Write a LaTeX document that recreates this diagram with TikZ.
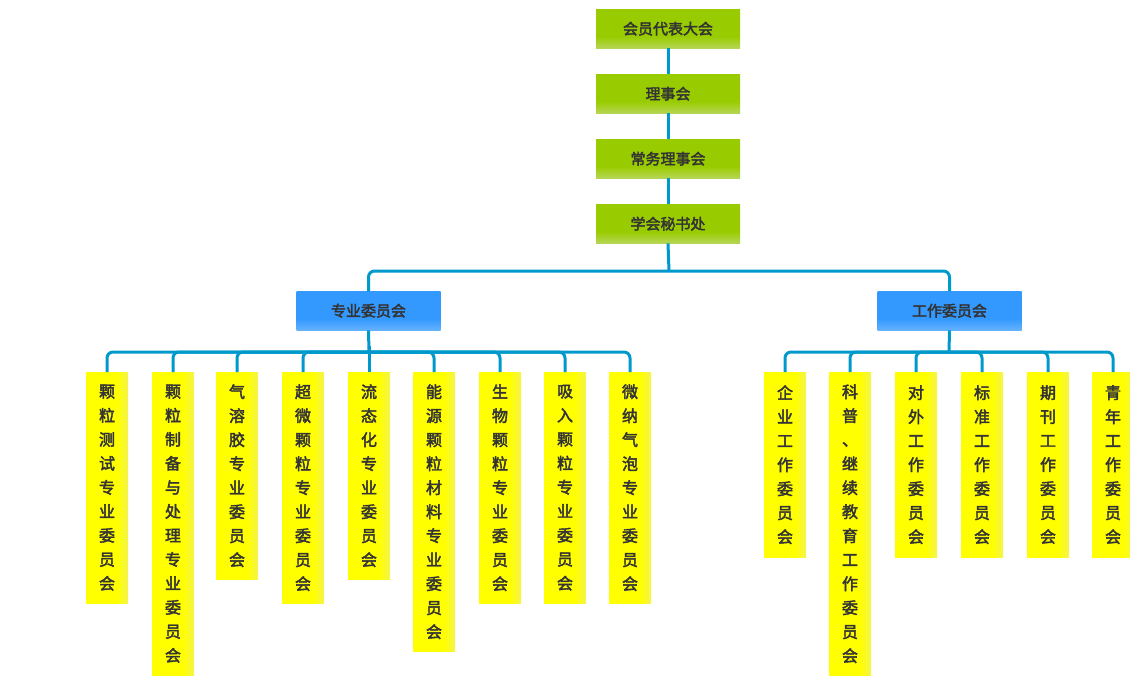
\documentclass[tikz,border=0pt]{standalone}
\usepackage{fontspec}
\setmainfont{Noto Sans CJK SC}[AutoFakeBold=2.5]
\definecolor{lc}{HTML}{0099CC}
\definecolor{tc}{HTML}{333333}
\definecolor{gr}{HTML}{99CC00}
\definecolor{bl}{HTML}{3399FF}
\pgfdeclarehorizontalshading{ysh}{100bp}{color(0bp)=(yellow); color(62bp)=(yellow); color(100bp)=(black!12)}
\pgfdeclareverticalshading{gsh}{100bp}{color(0bp)=(black!10); color(40bp)=(gr); color(100bp)=(gr)}
\pgfdeclareverticalshading{bsh}{100bp}{color(0bp)=(bl!35); color(40bp)=(bl); color(100bp)=(bl)}
\tikzset{
 gbox/.style={shading=gsh, minimum width=144pt, minimum height=39pt, inner sep=0pt, text=tc, font=\fontsize{15}{15}\selectfont\bfseries, anchor=north},
 bbox/.style={gbox, shading=bsh},
 ybox/.style={shading=ysh, minimum width=42pt, text width=42pt, minimum height=#1, inner sep=0pt, text=tc, anchor=north, align=center, font=\fontsize{16}{24}\selectfont\bfseries},
 conn/.style={draw=lc, line width=3pt, rounded corners=6pt}
}
\begin{document}
\begin{tikzpicture}[x=1pt,y=-1pt]
\useasboundingbox (0,0) rectangle (1130,675);
\node[gbox] (a) at (668,9) {会员代表大会};
\node[gbox] (b) at (668,74) {理事会};
\node[gbox] (c) at (668,139) {常务理事会};
\node[gbox] (d) at (668,204) {学会秘书处};
\node[bbox] (zy) at (368.5,291) {专业委员会};
\node[bbox] (gz) at (949.5,291) {工作委员会};
\coordinate (b1) at (669,271);
\coordinate (b2) at (369,352);
\coordinate (b3) at (949,352);
\def\Y#1#2#3#4{\node[ybox=#3pt] (#1) at (#2,372) {#4};}
\Y{y1}{107}{231}{颗\\粒\\测\\试\\专\\业\\委\\员\\会}
\Y{y2}{173}{303}{颗\\粒\\制\\备\\与\\处\\理\\专\\业\\委\\员\\会}
\Y{y3}{237}{207}{气\\溶\\胶\\专\\业\\委\\员\\会}
\Y{y4}{303}{231}{超\\微\\颗\\粒\\专\\业\\委\\员\\会}
\Y{y5}{369}{207}{流\\态\\化\\专\\业\\委\\员\\会}
\Y{y6}{434}{279}{能\\源\\颗\\粒\\材\\料\\专\\业\\委\\员\\会}
\Y{y7}{500}{231}{生\\物\\颗\\粒\\专\\业\\委\\员\\会}
\Y{y8}{565}{231}{吸\\入\\颗\\粒\\专\\业\\委\\员\\会}
\Y{y9}{630}{231}{微\\纳\\气\\泡\\专\\业\\委\\员\\会}
\Y{w1}{785}{185}{企\\业\\工\\作\\委\\员\\会}
\Y{w2}{850}{303}{科\\普\\、\\继\\续\\教\\育\\工\\作\\委\\员\\会}
\Y{w3}{916}{185}{对\\外\\工\\作\\委\\员\\会}
\Y{w4}{982}{185}{标\\准\\工\\作\\委\\员\\会}
\Y{w5}{1048}{185}{期\\刊\\工\\作\\委\\员\\会}
\Y{w6}{1113}{185}{青\\年\\工\\作\\委\\员\\会}
\draw[conn] (a.south) -- (b.north) (b.south) -- (c.north) (c.south) -- (d.north);
\draw[conn] (d.south) -- (b1);
\draw[conn] (zy.north) |- (b1) -| (gz.north);
\draw[conn] (zy.south) -- (b2);
\draw[conn] (y1.north) |- (b2) -| (y9.north);
\foreach \n in {y2,y3,y4,y5,y6,y7,y8} \draw[conn] (\n.north) |- (b2);
\draw[conn] (gz.south) -- (b3);
\draw[conn] (w1.north) |- (b3) -| (w6.north);
\foreach \n in {w2,w3,w4,w5} \draw[conn] (\n.north) |- (b3);
\end{tikzpicture}
\end{document}
